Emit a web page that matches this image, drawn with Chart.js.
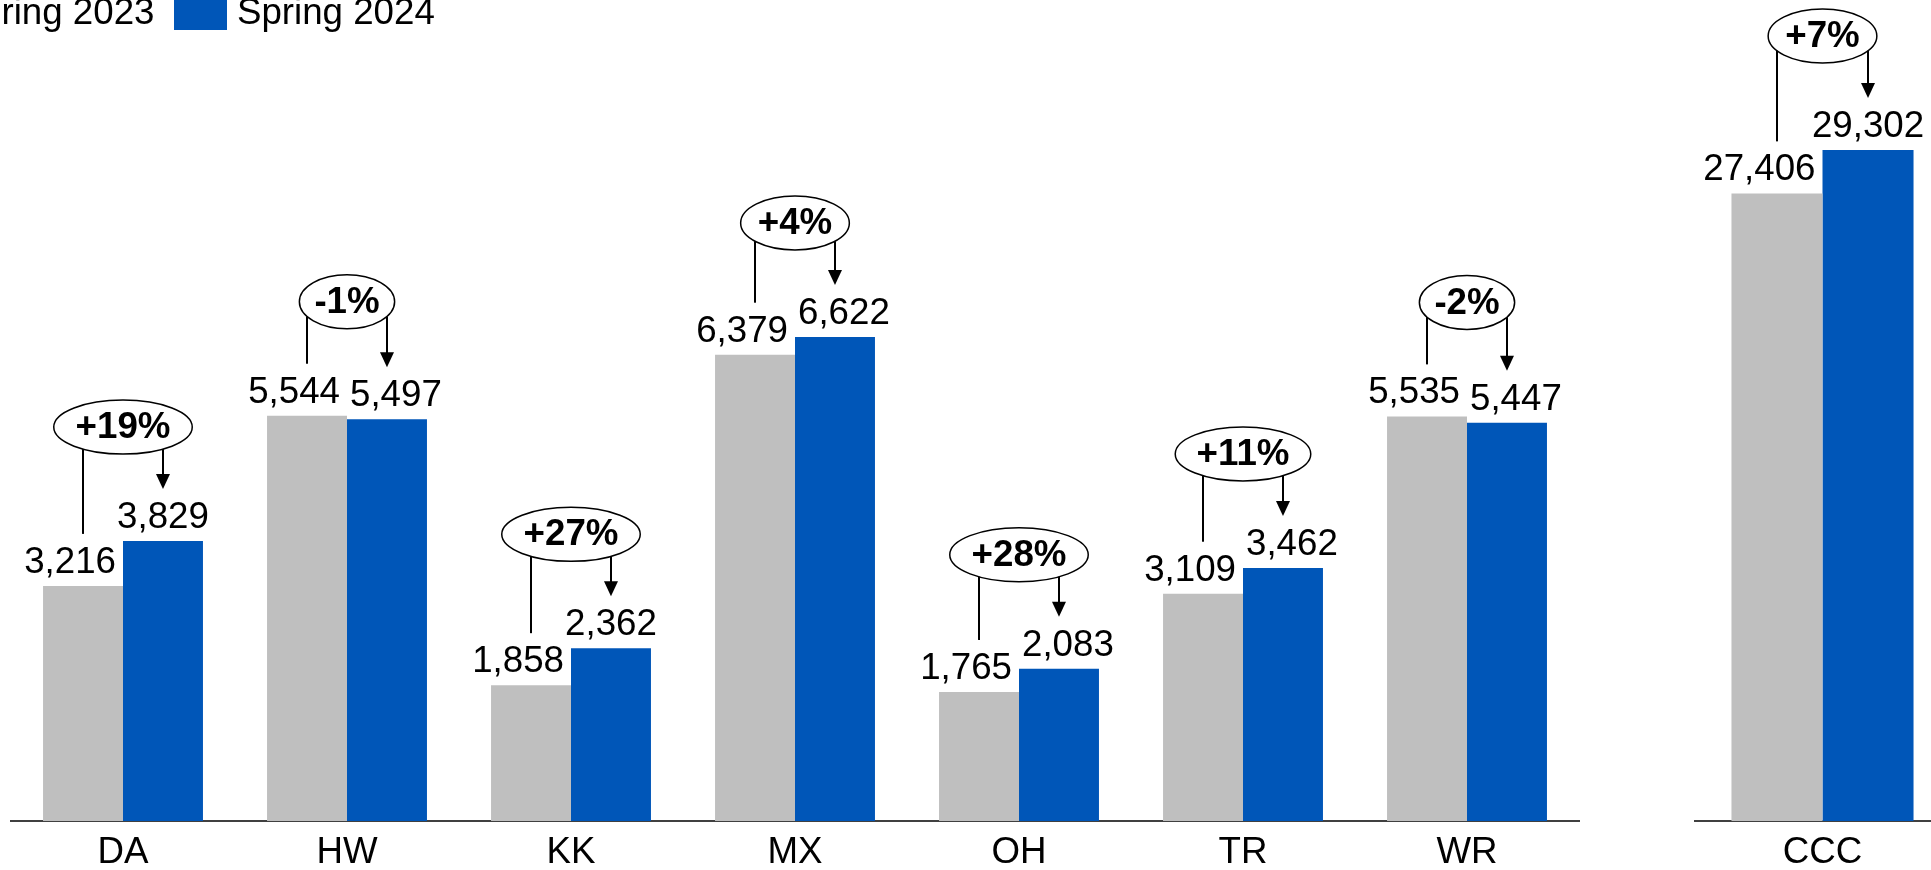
<!DOCTYPE html>
<html>
<head>
<meta charset="utf-8">
<script src="https://cdn.jsdelivr.net/npm/chart.js@4"></script>
<style>
html,body{margin:0;padding:0;width:1931px;height:870px;overflow:hidden;background:#fff;}
body{position:relative;font-family:"Liberation Sans",Arial,sans-serif;}
#leftChart{position:absolute;left:0;top:0;}
#rightChart{position:absolute;left:1684px;top:0;}
#legend{position:absolute;left:-106.4px;top:0;display:flex;gap:19.5px;z-index:2;}
.item{display:flex;align-items:flex-start;}
.box{width:53px;height:44px;margin-top:-14px;margin-right:10px;}
.txt{font-size:36.7px;line-height:36px;margin-top:-5.8px;color:#000;white-space:nowrap;}
</style>
</head>
<body>
<div id="legend"></div>
<canvas id="leftChart" width="1590" height="870"></canvas>
<canvas id="rightChart" width="277" height="870"></canvas>
<script>
// ---- data ----
const seriesNames = ['Spring 2023', 'Spring 2024'];
const categories = ['DA', 'HW', 'KK', 'MX', 'OH', 'TR', 'WR'];
const spring2023 = [3216, 5544, 1858, 6379, 1765, 3109, 5535];
const spring2024 = [3829, 5497, 2362, 6622, 2083, 3462, 5447];
const changeLabels = ['+19%', '-1%', '+27%', '+4%', '+28%', '+11%', '-2%'];
const totalCategories = ['CCC'];
const total2023 = [27406];
const total2024 = [29302];
const totalChangeLabels = ['+7%'];

const GRAY = '#BFBFBF';
const BLUE = '#0056B8';
const FONT = '"Liberation Sans", Arial, sans-serif';
const FS = 36.7;

// ---- legend ----
const legend = document.getElementById('legend');
[GRAY, BLUE].forEach((c, i) => {
  const it = document.createElement('div'); it.className = 'item';
  const b = document.createElement('div'); b.className = 'box'; b.style.background = c;
  const t = document.createElement('span'); t.className = 'txt'; t.textContent = seriesNames[i];
  it.appendChild(b); it.appendChild(t); legend.appendChild(it);
});

// ---- annotation plugin: value labels, ellipse with change, connector & arrow ----
const annotPlugin = {
  id: 'changeAnnot',
  afterDatasetsDraw(chart, args, opts) {
    const ctx = chart.ctx;
    const m0 = chart.getDatasetMeta(0), m1 = chart.getDatasetMeta(1);
    ctx.save();
    ctx.fillStyle = '#000';
    ctx.strokeStyle = '#000';
    m0.data.forEach((b0, i) => {
      const b1 = m1.data[i];
      const v0 = chart.data.datasets[0].data[i];
      const v1 = chart.data.datasets[1].data[i];
      const t0 = v0.toLocaleString('en-US');
      const t1 = v1.toLocaleString('en-US');
      ctx.font = FS + 'px ' + FONT;
      ctx.textBaseline = 'alphabetic';
      ctx.textAlign = 'left';
      const w0 = ctx.measureText(t0).width;
      const w1 = ctx.measureText(t1).width;
      const r0 = b0.x + b0.width / 2 - 7;
      const base0 = b0.y - 13, base1 = b1.y - 13;
      ctx.fillText(t0, r0 - w0, base0);
      let l1 = b1.x - w1 / 2;
      if (Math.abs(base0 - base1) < 32) l1 = Math.max(l1, r0 + 10);
      ctx.fillText(t1, l1, base1);

      // ellipse
      ctx.font = 'bold ' + FS + 'px ' + FONT;
      const txt = opts.labels[i];
      const tw = ctx.measureText(txt).width;
      const rx = tw * 1.46 / 2, ry = 27;
      const cx = (b0.x + b1.x) / 2;
      const cy = Math.min(b0.y, b1.y) - 114;
      ctx.lineWidth = 1.5;
      ctx.beginPath();
      ctx.ellipse(cx, cy, rx, ry, 0, 0, Math.PI * 2);
      ctx.stroke();
      ctx.textAlign = 'center';
      ctx.textBaseline = 'middle';
      ctx.fillText(txt, cx, cy + 1);

      const edgeY = (x) => { const d = (x - cx) / rx; return cy + ry * Math.sqrt(Math.max(0, 1 - d * d)); };
      ctx.lineWidth = 2;
      ctx.beginPath();
      ctx.moveTo(b0.x, edgeY(b0.x));
      ctx.lineTo(b0.x, b0.y - 52);
      ctx.stroke();
      const tip = b1.y - 52;
      ctx.beginPath();
      ctx.moveTo(b1.x, edgeY(b1.x));
      ctx.lineTo(b1.x, tip - 12);
      ctx.stroke();
      ctx.beginPath();
      ctx.moveTo(b1.x - 7, tip - 15);
      ctx.lineTo(b1.x + 7, tip - 15);
      ctx.lineTo(b1.x, tip);
      ctx.closePath();
      ctx.fill();
    });
    ctx.restore();
  }
};

function makeChart(id, labels, d0, d1, pct, yMax) {
  return new Chart(document.getElementById(id), {
    type: 'bar',
    data: {
      labels: labels,
      datasets: [
        { label: seriesNames[0], data: d0, backgroundColor: GRAY, borderWidth: 0, categoryPercentage: 0.714, barPercentage: 1.0 },
        { label: seriesNames[1], data: d1, backgroundColor: BLUE, borderWidth: 0, categoryPercentage: 0.714, barPercentage: 1.0 }
      ]
    },
    options: {
      responsive: false,
      animation: false,
      devicePixelRatio: 1,
      layout: { padding: { left: 11, right: 11, top: 90, bottom: 0 } },
      plugins: {
        legend: { display: false },
        tooltip: { enabled: false },
        changeAnnot: { labels: pct }
      },
      scales: {
        x: {
          grid: { display: false, drawTicks: false },
          border: { display: true, color: '#404040', width: 2 },
          ticks: { color: '#000', font: { size: FS, family: FONT }, padding: 10, maxRotation: 0 },
          afterFit(s) { s.height = 49; }
        },
        y: { display: false, min: 0, max: yMax }
      }
    },
    plugins: [annotPlugin]
  });
}

makeChart('leftChart', categories, spring2023, spring2024, changeLabels, 10000);
makeChart('rightChart', totalCategories, total2023, total2024, totalChangeLabels, 31920);
</script>
</body>
</html>
